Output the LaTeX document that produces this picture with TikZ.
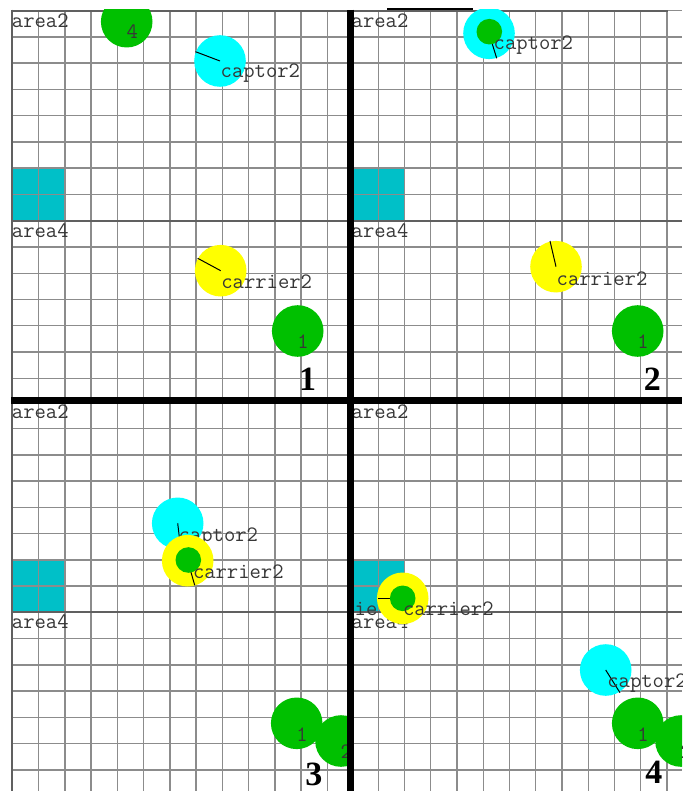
\documentclass[tikz,border=0pt]{standalone}
\usepackage{fontspec}
\newfontfamily\serf{Liberation Serif}
\definecolor{gridgray}{RGB}{140,140,140}
\definecolor{linegray}{RGB}{96,96,96}
\definecolor{botgreen}{RGB}{0,192,0}
\definecolor{botcyan}{RGB}{0,255,255}
\definecolor{botyellow}{RGB}{255,255,0}
\definecolor{zonecyan}{RGB}{0,192,200}
\definecolor{txtgray}{RGB}{55,55,55}
\tikzset{
 gridline/.style={draw=gridgray, line width=1.4pt},
 arealine/.style={draw=linegray, line width=2pt},
 borderline/.style={draw=linegray, line width=2pt},
 divider/.style={draw=black, line width=6.5pt},
 bot/.style={circle, inner sep=0pt, minimum size=51.6pt, draw=none},
 greenbot/.style={bot, fill=botgreen},
 captorbot/.style={bot, fill=botcyan},
 carrierbot/.style={bot, fill=botyellow},
 core/.style={circle, inner sep=0pt, minimum size=25.6pt, draw=none, fill=botgreen},
 heading/.style={draw=black, line width=1pt},
 lbl/.style={anchor=base west, inner sep=0pt, text=txtgray, font=\ttfamily\fontsize{22}{24}\selectfont},
 panelno/.style={anchor=base, inner sep=0pt, font=\serf\bfseries\fontsize{34}{36}\selectfont},
}
% #1 ox, #2 oy, #3 right, #4 bottom, #5 name prefix
\newcommand{\gridpanel}[5]{%
  \begin{scope}
    \clip (#1-1.2,#2-1.2) rectangle (#3,#4);
    \fill[zonecyan] (#1,#2+157.5) rectangle (#1+52.5,#2+210);
    \foreach \k in {0,...,14} {\draw[gridline] (#1,#2+\k*26.25) -- (#3,#2+\k*26.25);}
    \foreach \k in {0,...,13} {\draw[gridline] (#1+\k*26.25,#2) -- (#1+\k*26.25,#4);}
    \draw[arealine] (#1,#2+210) -- (#3,#2+210);
    \node[lbl] (#5top) at (#1-0.5,#2+16.6) {area2};
    \node[lbl] (#5bot) at (#1-0.5,#2+226.4) {area4};
  \end{scope}}
\begin{document}
\begin{tikzpicture}[x=1pt,y=-1pt]
\useasboundingbox (0,0) rectangle (682,791);
\fill[white] (0,0) rectangle (682,791);

% ---------- grids ----------
\gridpanel{12.3}{10.7}{350.5}{400.3}{pa}
\gridpanel{352}{10.7}{682}{400.3}{pb}
\gridpanel{12.3}{402.3}{350.5}{791}{pc}
\gridpanel{352}{402.3}{682}{791}{pd}
\draw[borderline] (12.3,9.7) -- (12.3,791);
\draw[borderline] (11.3,10.7) -- (668,10.7);
\draw[black, line width=2pt] (387,9) -- (473,9);

% ---------- panel 1 ----------
\begin{scope}
\clip (11.3,9.7) rectangle (350.5,400.3);
\node[greenbot] (g4a) at (126.7,21.7) {};
\node[lbl] (g4al) at (126.5,38.4) {4};
\node[captorbot] (cap1) at (220,61) {};
\draw[heading] (cap1.center) -- ++(-24.5,-9.3);
\node[lbl] (cap1l) at (220.5,78) {captor2};
\node[carrierbot] (car1) at (220.7,270.7) {};
\draw[heading] (car1.center) -- ++(-23,-12.4);
\node[lbl] (car1l) at (221.2,288) {carrier2};
\node[greenbot] (g1a) at (297.7,331) {};
\node[lbl] (g1al) at (297.2,348) {1};
\node[panelno] (n1) at (307.5,390) {1};
\end{scope}

% ---------- panel 2 ----------
\begin{scope}
\clip (350.5,9.7) rectangle (682,400.3);
\node[captorbot] (cap2) at (489,33.3) {};
\draw[heading] (cap2.center) -- ++(7.7,25);
\node[core] (cap2c) at (489.3,31.7) {};
\node[lbl] (cap2l) at (493.5,50) {captor2};
\node[carrierbot] (car2) at (556,266.7) {};
\draw[heading] (car2.center) -- ++(-6,-25.7);
\node[lbl] (car2l) at (556.5,285) {carrier2};
\node[greenbot] (g1b) at (637.7,331) {};
\node[lbl] (g1bl) at (637.2,348) {1};
\node[panelno] (n2) at (652.3,390) {2};
\end{scope}

% ---------- panel 3 ----------
\begin{scope}
\clip (11.3,400.3) rectangle (350.5,791);
\node[captorbot] (cap3) at (177.7,523.3) {};
\draw[heading] (cap3.center) -- ++(3,25.5);
\node[lbl] (cap3l) at (178.5,541.5) {captor2};
\node[carrierbot] (car3) at (187.7,560.7) {};
\draw[heading] (car3.center) -- ++(7,24.5);
\node[core] (car3c) at (188.3,560) {};
\node[lbl] (car3l) at (192.8,578) {carrier2};
\node[greenbot] (g1c) at (296.7,723.3) {};
\node[lbl] (g1cl) at (296.2,741.4) {1};
\node[greenbot] (g2c) at (341,741) {};
\node[lbl] (g2cl) at (340.5,758.5) {2};
\node[panelno] (n3) at (313.8,785) {3};
\end{scope}

% ---------- panel 4 ----------
\begin{scope}
\clip (350.5,400.3) rectangle (682,791);
\node[lbl] (ghost) at (354.5,615) {ie};
\node[carrierbot] (car4) at (402.7,598.3) {};
\draw[heading] (car4.center) -- ++(-24.4,0);
\node[core] (car4c) at (402.7,598.3) {};
\node[lbl] (car4l) at (402.8,615) {carrier2};
\node[captorbot] (cap4) at (605.7,670) {};
\draw[heading] (cap4.center) -- ++(14.3,22.7);
\node[lbl] (cap4l) at (607.2,687) {captor2};
\node[greenbot] (g1d) at (637.7,723.3) {};
\node[lbl] (g1dl) at (637.2,741.4) {1};
\node[greenbot] (g2d) at (681,741) {};
\node[lbl] (g2dl) at (680.5,758.5) {2};
\node[panelno] (n4) at (653.8,783.3) {4};
\end{scope}

% ---------- dividers ----------
\draw[divider] (350.5,9.7) -- (350.5,791);
\draw[divider] (11,400.3) -- (682,400.3);
\end{tikzpicture}
\end{document}
